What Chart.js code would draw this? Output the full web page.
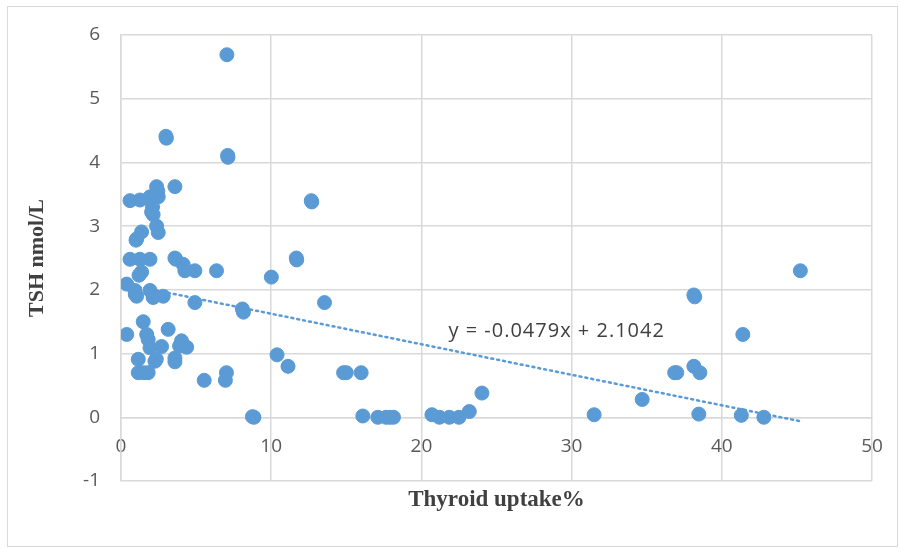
<!DOCTYPE html>
<html>
<head>
<meta charset="utf-8">
<script src="https://cdn.jsdelivr.net/npm/chart.js@4.4.1/dist/chart.umd.min.js"></script>
<style>
  html, body { margin: 0; padding: 0; background: #fff; }
</style>
</head>
<body>
<canvas id="uptakeChart" width="899" height="548"></canvas>
<script>
// thyroid uptake % vs TSH
const uptake = [
  7.05, 2.99, 3.02, 7.1, 7.12, 3.59, 2.37, 2.45, 12.67, 12.7,
  0.6, 1.26, 1.93, 2.48, 2.0, 2.1, 2.04, 2.14, 2.37, 2.48,
  1.37, 1.04, 1.0, 0.6, 1.26, 1.93, 3.59, 3.65, 4.14, 4.25,
  4.92, 6.36, 1.37, 1.2, 10.01, 11.67, 11.7, 0.38, 0.93, 1.04,
  0.95, 1.93, 2.14, 2.81, 4.92, 13.55, 8.08, 8.15, 38.14, 38.2,
  45.23, 41.4, 1.48, 3.14, 0.38, 1.71, 1.81, 1.93, 2.7, 4.03,
  4.37, 3.9, 3.59, 3.59, 1.15, 2.26, 2.35, 1.15, 1.81, 1.5,
  7.02, 6.95, 5.54, 10.39, 11.12, 14.82, 15.0, 15.99, 8.75, 8.85,
  16.1, 17.1, 17.65, 18.14, 17.9, 20.7, 21.2, 21.86, 22.5, 23.19,
  24.03, 31.5, 34.7, 36.86, 37.0, 38.14, 38.54, 38.47, 41.3, 42.8
];
const tsh = [
  5.69, 4.41, 4.38, 4.11, 4.08, 3.62, 3.62, 3.55, 3.4, 3.38,
  3.4, 3.41, 3.46, 3.46, 3.4, 3.3, 3.22, 3.18, 3.0, 2.9,
  2.91, 2.8, 2.78, 2.48, 2.48, 2.48, 2.5, 2.48, 2.4, 2.3,
  2.3, 2.3, 2.28, 2.23, 2.2, 2.5, 2.47, 2.09, 1.99, 1.9,
  1.93, 1.99, 1.88, 1.9, 1.8, 1.8, 1.7, 1.65, 1.92, 1.89,
  2.3, 1.3, 1.5, 1.38, 1.3, 1.3, 1.22, 1.09, 1.11, 1.2,
  1.1, 1.12, 0.93, 0.87, 0.91, 0.88, 0.91, 0.7, 0.7, 0.7,
  0.7, 0.58, 0.58, 0.98, 0.8, 0.7, 0.7, 0.7, 0.01, 0.0,
  0.02, 0.0, 0.0, 0.0, 0.0, 0.04, 0.0, 0.0, 0.0, 0.09,
  0.38, 0.04, 0.28, 0.7, 0.7, 0.8, 0.7, 0.05, 0.03, 0.0
];
const xTicks = [0, 10, 20, 30, 40, 50];
const yTicks = [-1, 0, 1, 2, 3, 4, 5, 6];
const trendSlope = -0.0479;
const trendIntercept = 2.1042;
const trendLabel = "y = -0.0479x + 2.1042";

const points = uptake.map((v, i) => ({ x: v, y: tsh[i] }));
const xMin = Math.min(...uptake);
const xMax = Math.max(...uptake);
const trend = [xMin, xMax].map(v => ({ x: v, y: trendSlope * v + trendIntercept }));

const blue = "#5b9bd5";
const grid = "#d9d9d9";

const frame = {
  id: "frame",
  beforeDraw(chart) {
    const ctx = chart.ctx;
    ctx.save();
    ctx.fillStyle = "#fff";
    ctx.fillRect(0, 0, chart.width, chart.height);
    ctx.strokeStyle = grid;
    ctx.lineWidth = 1;
    ctx.strokeRect(7.5, 6.5, 890, 540);
    ctx.restore();
  },
  afterDraw(chart) {
    const { ctx, chartArea } = chart;
    const x = chart.scales.x, y = chart.scales.y;
    ctx.save();
    ctx.fillStyle = "#404040";
    ctx.textBaseline = "middle";
    ctx.textAlign = "center";
    ctx.font = 'bold 23px "Liberation Serif"';
    ctx.fillText("Thyroid uptake%", (chartArea.left + chartArea.right) / 2, 500);
    ctx.textAlign = "left";
    ctx.font = '20px "Open Sans"';
    ctx.letterSpacing = "1px";
    ctx.fillText(trendLabel, x.getPixelForValue(21.8), y.getPixelForValue(1.35));
    ctx.restore();
  }
};

new Chart(document.getElementById("uptakeChart"), {
  type: "scatter",
  data: {
    datasets: [
      {
        type: "line",
        data: trend,
        borderColor: blue,
        borderWidth: 2.5,
        borderDash: [2, 4],
        borderCapStyle: "round",
        pointRadius: 0,
        fill: false,
        order: 0
      },
      {
        data: points,
        backgroundColor: blue,
        borderColor: blue,
        pointRadius: 7,
        pointHoverRadius: 7,
        order: 1
      }
    ]
  },
  options: {
    responsive: false,
    animation: false,
    events: [],
    layout: { padding: { top: 35, right: 27, bottom: 67, left: 0 } },
    plugins: { legend: { display: false }, tooltip: { enabled: false } },
    scales: {
      x: {
        type: "linear",
        position: { y: 0 },
        min: 0,
        max: 50,
        afterBuildTicks: s => { s.ticks = xTicks.map(v => ({ value: v })); },
        afterFit: s => { s.paddingLeft = 0; s.paddingRight = 0; },
        grid: { color: grid, lineWidth: 1.5, drawTicks: false },
        border: { color: grid, width: 1.5 },
        ticks: { color: "#595959", font: { family: "Open Sans", size: 19 }, padding: 18 }
      },
      y: {
        min: -1,
        max: 6,
        afterBuildTicks: s => { s.ticks = yTicks.map(v => ({ value: v })); },
        afterFit: s => { s.width = 121; },
        grid: { color: grid, lineWidth: 1.5, drawTicks: false },
        border: { color: grid, width: 1.5 },
        ticks: { color: "#595959", font: { family: "Open Sans", size: 19 }, padding: 21 },
        title: {
          display: true,
          text: "TSH nmol/L",
          color: "#404040",
          font: { family: "Liberation Serif", size: 22, weight: "bold" },
          padding: { top: 24, bottom: 0 }
        }
      }
    }
  },
  plugins: [frame]
});
</script>
</body>
</html>
